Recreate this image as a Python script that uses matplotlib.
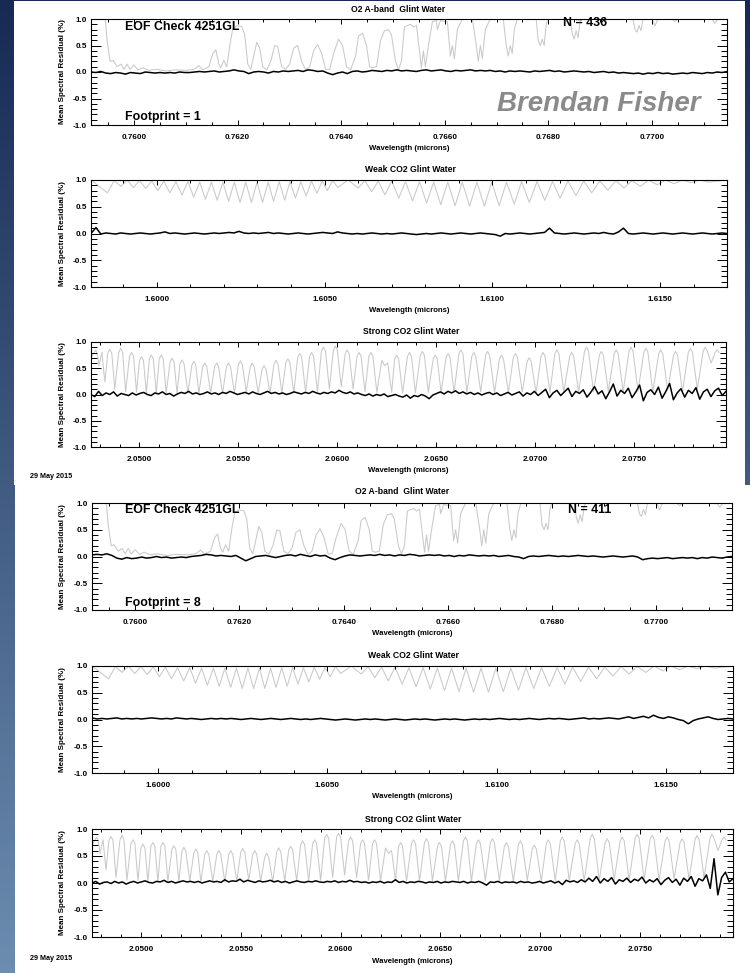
import numpy as np
import matplotlib
matplotlib.use("Agg")
import matplotlib.pyplot as plt
from matplotlib.patches import Rectangle
from matplotlib.ticker import MultipleLocator, FixedLocator, FormatStrFormatter

plt.rcParams['font.family'] = ['Liberation Sans', 'DejaVu Sans']
plt.rcParams['font.weight'] = 'bold'
plt.rcParams['axes.unicode_minus'] = False

# ---------------- data ----------------
band_titles = ["O2 A-band  Glint Water", "Weak CO2 Glint Water", "Strong CO2 Glint Water"]
o2_xlim = (0.75917, 0.77145)
weak_xlim = (1.59804, 1.61699)
strong_xlim = (2.04755, 2.07965)
o2_major = [0.7600, 0.7620, 0.7640, 0.7660, 0.7680, 0.7700]
weak_major = [1.6000, 1.6050, 1.6100, 1.6150]
strong_major = [2.0500, 2.0550, 2.0600, 2.0650, 2.0700, 2.0750]
footprints = [1, 8]
n_soundings = [436, 411]
date_label = "29 May 2015"

# grey reference spectra (scaled)
o2_wl = [0.759191, 0.759441, 0.759480, 0.759538, 0.759595, 0.759672, 0.759749, 0.759807, 0.759865,
         0.759923, 0.760000, 0.760077, 0.760173, 0.760289, 0.760424, 0.760617, 0.760809, 0.761002,
         0.761156, 0.761253, 0.761330, 0.761445, 0.761522, 0.761580, 0.761638, 0.761676, 0.761734,
         0.761792, 0.761850, 0.761908, 0.761985, 0.762081, 0.762139, 0.762197, 0.762255, 0.762312,
         0.762370, 0.762428, 0.762486, 0.762563, 0.762640, 0.762717, 0.762775, 0.762852, 0.762929,
         0.763006, 0.763083, 0.763160, 0.763237, 0.763314, 0.763392, 0.763469, 0.763546, 0.763623,
         0.763700, 0.763777, 0.763854, 0.763950, 0.764027, 0.764105, 0.764182, 0.764278, 0.764336,
         0.764413, 0.764490, 0.764548, 0.764606, 0.764683, 0.764760, 0.764837, 0.764914, 0.764972,
         0.765049, 0.765107, 0.765164, 0.765222, 0.765338, 0.765396, 0.765454, 0.765511, 0.765550,
         0.765588, 0.765627, 0.765685, 0.765762, 0.765839, 0.765858, 0.765916, 0.766051, 0.766109,
         0.766147, 0.766186, 0.766243, 0.766340, 0.766533, 0.766610, 0.766648, 0.766687, 0.766725,
         0.766783, 0.766879, 0.767130, 0.767188, 0.767226, 0.767265, 0.767303, 0.767342, 0.767400,
         0.767766, 0.767804, 0.767843, 0.767881, 0.767920, 0.767958, 0.767997, 0.768421, 0.768460,
         0.768498, 0.768537, 0.768575, 0.768614, 0.768652, 0.769635, 0.769674, 0.769712, 0.769751,
         0.769789, 0.769828, 0.770001, 0.770059, 0.770117, 0.770387, 0.770444, 0.770502, 0.771158,
         0.771215, 0.771273, 0.771446]
o2_spec = [1.05, 1.05, 0.60, 0.20, 0.22, 0.10, 0.15, 0.05, 0.15,
           0.05, 0.13, 0.04, 0.08, 0.03, 0.05, 0.02, 0.04, 0.03,
           0.05, 0.12, 0.04, 0.10, 0.35, 0.42, 0.15, 0.08, 0.22,
           0.10, 0.50, 0.82, 0.87, 0.86, 0.70, 0.15, 0.05, 0.30,
           0.56, 0.45, 0.10, 0.04, 0.20, 0.50, 0.48, 0.10, 0.05,
           0.15, 0.45, 0.50, 0.20, 0.04, 0.10, 0.40, 0.52, 0.35,
           0.05, 0.05, 0.35, 0.62, 0.50, 0.10, 0.04, 0.30, 0.68,
           0.73, 0.50, 0.10, 0.08, 0.10, 0.60, 0.78, 0.80, 0.70,
           0.20, 0.05, 0.20, 0.85, 0.90, 0.85, 0.88, 0.40, 0.08,
           0.40, 0.10, 0.50, 0.95, 0.97, 0.80, 0.97, 0.95, 0.30,
           0.50, 0.25, 0.80, 1.00, 1.00, 0.50, 0.20, 0.50, 0.25,
           0.80, 1.00, 1.00, 0.50, 0.30, 0.50, 0.35, 0.80, 1.00,
           1.00, 0.60, 0.50, 0.62, 0.50, 0.90, 1.00, 1.00, 0.75,
           0.62, 0.78, 0.65, 0.95, 1.00, 1.00, 0.80, 0.75, 0.88,
           0.78, 1.00, 1.00, 0.87, 1.00, 1.00, 0.95, 1.00, 1.00,
           0.92, 1.00, 1.00]

weak_wl = [1.59804, 1.59853, 1.59873, 1.59893, 1.59912, 1.59930, 1.59949, 1.59967, 1.59985, 1.60003,
           1.60021, 1.60039, 1.60057, 1.60075, 1.60093, 1.60110, 1.60128, 1.60145, 1.60163, 1.60180,
           1.60197, 1.60214, 1.60231, 1.60248, 1.60265, 1.60282, 1.60299, 1.60315, 1.60332, 1.60348,
           1.60365, 1.60381, 1.60397, 1.60413, 1.60429, 1.60445, 1.60461, 1.60477, 1.60493, 1.60508,
           1.60524, 1.60539, 1.60570, 1.60600, 1.60620, 1.60640, 1.60660, 1.60680, 1.60700, 1.60721,
           1.60741, 1.60762, 1.60783, 1.60804, 1.60825, 1.60846, 1.60867, 1.60889, 1.60910, 1.60932,
           1.60954, 1.60976, 1.60998, 1.61020, 1.61042, 1.61065, 1.61087, 1.61110, 1.61133, 1.61156,
           1.61179, 1.61202, 1.61225, 1.61249, 1.61272, 1.61296, 1.61320, 1.61344, 1.61368, 1.61392,
           1.61416, 1.61441, 1.61466, 1.61491, 1.61516, 1.61541, 1.61566, 1.61592, 1.61618, 1.61644,
           1.61699]
weak_spec = [1.00, 0.76, 0.99, 0.88, 1.00, 0.86, 0.99, 0.84, 0.98, 0.80,
             0.98, 0.76, 0.97, 0.72, 0.97, 0.68, 0.96, 0.64, 0.96, 0.62,
             0.96, 0.60, 0.96, 0.58, 0.96, 0.58, 0.96, 0.58, 0.96, 0.60,
             0.97, 0.62, 0.97, 0.66, 0.97, 0.70, 0.98, 0.75, 0.98, 0.80,
             0.99, 0.86, 1.00, 0.85, 0.99, 0.78, 0.98, 0.72, 0.98, 0.66,
             0.97, 0.61, 0.97, 0.57, 0.96, 0.54, 0.96, 0.52, 0.96, 0.51,
             0.96, 0.51, 0.96, 0.52, 0.96, 0.55, 0.97, 0.58, 0.97, 0.62,
             0.97, 0.66, 0.98, 0.71, 0.98, 0.76, 0.98, 0.81, 0.99, 0.85,
             0.99, 0.88, 1.00, 0.91, 1.00, 0.93, 1.00, 0.95, 1.00, 0.96,
             1.00]

# (wavelength, scaled value) vertices of the strong CO2 reference spectrum
strong_pts = [
    (2.04755, 0.69), (2.04770, 0.80), (2.04780, 0.85), (2.04790, 0.70), (2.04795, 0.55),
    (2.04810, 0.80), (2.04825, 0.24), (2.04840, 0.79), (2.04850, 0.86), (2.04860, 0.79),
    (2.04875, 0.10), (2.04895, 0.80), (2.04905, 0.88), (2.04915, 0.80), (2.04930, 0.05),
    (2.04950, 0.73), (2.04960, 0.80), (2.04970, 0.73), (2.04985, 0.04), (2.05000, 0.65),
    (2.05010, 0.72), (2.05020, 0.65), (2.05035, 0.03), (2.05050, 0.68), (2.05060, 0.75),
    (2.05070, 0.68), (2.05085, 0.02), (2.05100, 0.68), (2.05110, 0.75), (2.05120, 0.68),
    (2.05135, 0.03), (2.05155, 0.62), (2.05165, 0.69), (2.05175, 0.62), (2.05190, 0.02),
    (2.05205, 0.59), (2.05215, 0.66), (2.05225, 0.59), (2.05245, 0.03), (2.05265, 0.56),
    (2.05275, 0.63), (2.05285, 0.56), (2.05300, 0.02), (2.05320, 0.53), (2.05330, 0.60),
    (2.05340, 0.53), (2.05360, 0.03), (2.05380, 0.53), (2.05390, 0.60), (2.05400, 0.53),
    (2.05420, 0.02), (2.05440, 0.53), (2.05450, 0.60), (2.05460, 0.53), (2.05480, 0.03),
    (2.05500, 0.57), (2.05510, 0.64), (2.05520, 0.57), (2.05540, 0.05), (2.05560, 0.53),
    (2.05570, 0.60), (2.05580, 0.53), (2.05600, 0.03), (2.05620, 0.48), (2.05630, 0.55),
    (2.05640, 0.48), (2.05660, 0.02), (2.05680, 0.58), (2.05690, 0.65), (2.05700, 0.58),
    (2.05720, 0.03), (2.05740, 0.61), (2.05750, 0.68), (2.05760, 0.61), (2.05780, 0.03),
    (2.05800, 0.71), (2.05810, 0.78), (2.05820, 0.71), (2.05840, 0.04), (2.05860, 0.73),
    (2.05870, 0.80), (2.05880, 0.73), (2.05900, 0.05), (2.05920, 0.83), (2.05930, 0.90),
    (2.05940, 0.83), (2.05960, 0.10), (2.05980, 0.85), (2.05990, 0.92), (2.06000, 0.85),
    (2.06020, 0.15), (2.06040, 0.78), (2.06050, 0.85), (2.06060, 0.78), (2.06080, 0.10),
    (2.06100, 0.73), (2.06110, 0.80), (2.06120, 0.73), (2.06140, 0.05), (2.06160, 0.73),
    (2.06170, 0.80), (2.06180, 0.73), (2.06200, 0.04), (2.06225, 0.65), (2.06240, 0.55),
    (2.06255, 0.60), (2.06275, 0.04), (2.06290, 0.68), (2.06300, 0.75), (2.06310, 0.68),
    (2.06330, 0.03), (2.06355, 0.73), (2.06365, 0.80), (2.06375, 0.73), (2.06395, 0.03),
    (2.06420, 0.75), (2.06430, 0.82), (2.06440, 0.75), (2.06460, 0.04), (2.06485, 0.68),
    (2.06495, 0.75), (2.06505, 0.68), (2.06525, 0.03), (2.06550, 0.71), (2.06560, 0.78),
    (2.06570, 0.71), (2.06590, 0.04), (2.06615, 0.78), (2.06625, 0.85), (2.06635, 0.78),
    (2.06655, 0.03), (2.06680, 0.73), (2.06690, 0.80), (2.06700, 0.73), (2.06725, 0.05),
    (2.06750, 0.75), (2.06760, 0.82), (2.06770, 0.75), (2.06795, 0.04), (2.06820, 0.68),
    (2.06830, 0.75), (2.06840, 0.68), (2.06865, 0.03), (2.06890, 0.71), (2.06900, 0.78),
    (2.06910, 0.71), (2.06935, 0.05), (2.06960, 0.63), (2.06970, 0.70), (2.06980, 0.63),
    (2.07005, 0.03), (2.07030, 0.73), (2.07040, 0.80), (2.07050, 0.73), (2.07075, 0.04),
    (2.07100, 0.78), (2.07110, 0.85), (2.07120, 0.78), (2.07145, 0.05), (2.07175, 0.73),
    (2.07185, 0.80), (2.07195, 0.73), (2.07220, 0.04), (2.07250, 0.83), (2.07260, 0.90),
    (2.07270, 0.83), (2.07295, 0.05), (2.07325, 0.75), (2.07335, 0.82), (2.07345, 0.75),
    (2.07370, 0.06), (2.07400, 0.78), (2.07410, 0.85), (2.07420, 0.78), (2.07445, 0.05),
    (2.07475, 0.83), (2.07485, 0.90), (2.07495, 0.83), (2.07520, 0.06), (2.07550, 0.81),
    (2.07560, 0.88), (2.07570, 0.81), (2.07595, 0.05), (2.07625, 0.78), (2.07635, 0.85),
    (2.07645, 0.78), (2.07670, 0.08), (2.07700, 0.75), (2.07710, 0.82), (2.07720, 0.75),
    (2.07745, 0.06), (2.07775, 0.81), (2.07785, 0.88), (2.07795, 0.81), (2.07820, 0.10),
    (2.07850, 0.83), (2.07860, 0.90), (2.07870, 0.83), (2.07890, 0.60), (2.07910, 0.80),
    (2.07920, 0.85), (2.07930, 0.80)]

# mean spectral residuals (%), evenly sampled across each window
o2_res_fp1 = [
    0.00, -0.01, 0.01, -0.02, -0.03, -0.01, -0.02, -0.04, -0.01, -0.02,
    -0.03, 0.00, -0.01, -0.02, -0.01, -0.02, -0.01, -0.02, 0.00, -0.01,
    -0.01, 0.00, 0.01, 0.00, 0.01, 0.02, 0.00, 0.01, 0.02, 0.04,
    0.02, 0.01, -0.03, 0.00, 0.01, 0.00, -0.02, 0.01, 0.00, 0.02,
    0.01, 0.02, 0.03, 0.01, 0.04, 0.03, 0.01, 0.02, -0.02, -0.05,
    -0.02, 0.00, -0.03, 0.01, 0.02, 0.00, 0.01, 0.03, 0.02, 0.01,
    0.03, 0.02, 0.04, 0.02, 0.03, 0.02, 0.01, 0.03, 0.04, 0.02,
    0.03, 0.04, 0.02, 0.01, 0.03, 0.02, 0.03, 0.04, 0.02, 0.03,
    0.02, 0.03, 0.01, 0.02, 0.00, 0.02, 0.01, 0.02, 0.01, 0.00,
    0.02, 0.01, 0.02, 0.03, 0.01, 0.02, 0.00, 0.01, 0.02, 0.01,
    0.00, 0.01, -0.01, 0.00, 0.01, -0.01, 0.00, -0.02, -0.01, -0.02,
    -0.03, -0.02, -0.04, -0.02, -0.03, -0.01, -0.03, -0.02, -0.04, -0.03,
    -0.02, -0.03, -0.01, -0.02, -0.03, -0.01, -0.02, 0.00, -0.01, 0.01]
o2_res_fp8 = [
    0.03, 0.04, 0.03, 0.05, 0.02, -0.03, -0.05, -0.02, -0.04, -0.03,
    -0.01, -0.03, -0.02, 0.00, -0.02, -0.01, -0.03, -0.02, -0.01, -0.02,
    0.00, 0.01, 0.02, 0.04, 0.03, 0.01, 0.02, 0.01, 0.00, 0.02,
    -0.03, -0.08, -0.04, 0.00, 0.01, 0.02, 0.00, -0.02, 0.00, 0.02,
    0.03, 0.01, 0.04, 0.02, 0.00, 0.03, 0.01, 0.02, -0.03, -0.06,
    -0.02, 0.01, 0.03, 0.02, 0.01, 0.02, 0.03, 0.02, 0.04, 0.02,
    0.03, 0.01, 0.03, 0.02, 0.04, 0.03, 0.01, 0.02, 0.03, 0.02,
    0.03, 0.01, 0.02, 0.00, 0.02, 0.01, 0.03, 0.02, 0.01, 0.02,
    0.01, 0.02, 0.00, 0.01, 0.02, 0.00, -0.01, -0.04, 0.00, 0.01,
    0.00, 0.01, 0.02, 0.01, 0.00, 0.01, 0.00, 0.01, 0.02, 0.01,
    0.00, 0.01, 0.00, -0.01, 0.00, 0.01, 0.00, -0.01, 0.00, 0.01,
    -0.01, -0.06, -0.04, -0.03, -0.04, -0.03, -0.02, -0.04, -0.03, -0.02,
    -0.03, -0.02, -0.04, -0.02, -0.03, -0.01, -0.02, -0.03, -0.01, 0.00]
weak_res_fp1 = [
    0.00, 0.11, -0.01, 0.01, 0.00, -0.01, 0.01, 0.00, -0.01, 0.00,
    0.01, 0.00, -0.01, 0.00, 0.01, 0.03, 0.00, 0.01, 0.00, -0.01,
    0.00, 0.01, 0.00, -0.01, 0.00, 0.01, 0.00, 0.01, 0.02, 0.01,
    0.04, 0.01, 0.00, 0.01, 0.00, 0.01, 0.02, 0.00, 0.01, 0.00,
    -0.01, 0.00, 0.01, 0.00, -0.01, 0.00, 0.01, 0.02, 0.01, 0.00,
    0.03, 0.01, 0.00, -0.01, 0.00, -0.01, 0.00, 0.01, 0.00, -0.01,
    0.00, -0.01, 0.00, 0.01, 0.00, -0.01, -0.02, -0.01, 0.00, -0.01,
    0.00, 0.01, 0.00, -0.01, 0.00, 0.01, 0.00, -0.01, 0.00, 0.01,
    0.00, -0.01, -0.02, -0.05, 0.00, -0.01, 0.00, 0.01, 0.00, -0.01,
    0.00, 0.01, 0.02, 0.10, 0.01, 0.00, -0.01, 0.00, 0.01, 0.00,
    -0.01, 0.00, 0.01, 0.00, 0.02, 0.00, -0.01, 0.03, 0.10, 0.00,
    -0.01, 0.00, 0.01, 0.00, -0.01, 0.00, 0.01, 0.00, -0.01, 0.00,
    0.01, 0.00, -0.01, 0.00, 0.01, 0.00, -0.01, 0.00, 0.01, 0.00]
weak_res_fp8 = [
    0.03, 0.01, 0.02, 0.01, 0.02, 0.03, 0.01, 0.02, 0.01, 0.02,
    0.01, 0.02, 0.03, 0.02, 0.01, 0.02, 0.01, 0.03, 0.02, 0.01,
    0.02, 0.01, 0.00, 0.01, 0.02, 0.01, 0.02, 0.01, 0.02, 0.01,
    0.00, 0.01, 0.02, 0.01, 0.00, 0.01, 0.02, 0.01, 0.00, 0.01,
    0.02, 0.01, 0.00, 0.01, 0.00, 0.01, 0.02, 0.01, 0.00, -0.01,
    0.00, 0.01, 0.00, -0.01, 0.00, 0.01, 0.00, 0.01, 0.00, -0.01,
    0.00, 0.01, 0.00, -0.01, 0.00, 0.01, 0.00, 0.01, 0.00, -0.01,
    0.00, 0.01, 0.00, 0.01, 0.00, -0.01, 0.00, 0.01, 0.00, 0.01,
    0.00, 0.01, 0.02, 0.01, 0.00, 0.01, 0.00, 0.01, 0.02, 0.01,
    0.00, 0.01, 0.02, 0.01, 0.02, 0.01, 0.00, 0.01, 0.02, 0.03,
    0.01, 0.02, 0.01, 0.02, 0.03, 0.02, 0.01, 0.03, 0.05, 0.02,
    0.04, 0.06, 0.03, 0.08, 0.04, 0.02, 0.05, 0.03, 0.00, -0.02,
    -0.08, -0.02, 0.01, 0.03, 0.05, 0.02, 0.00, 0.01, 0.02, 0.01]
strong_res_fp1 = [
    0.00, -0.04, 0.06, -0.02, 0.03, 0.00, 0.05, -0.03, 0.02, 0.00,
    -0.02, 0.03, -0.01, 0.02, 0.04, 0.00, -0.02, 0.03, 0.01, 0.05,
    0.00, 0.02, -0.03, 0.01, 0.04, 0.02, 0.06, 0.01, 0.03, 0.00,
    0.02, 0.05, 0.01, 0.03, 0.00, 0.04, 0.02, 0.06, 0.03, 0.00,
    0.02, 0.04, 0.01, 0.05, 0.02, 0.00, 0.03, 0.06, 0.02, 0.04,
    0.01, 0.03, 0.00, 0.02, 0.05, 0.03, 0.01, 0.04, 0.02, 0.06,
    0.03, 0.01, 0.04, 0.02, 0.05, 0.03, 0.08, 0.04, 0.02, 0.05,
    0.01, 0.03, 0.00, -0.02, 0.01, -0.03, 0.00, -0.02, 0.01, -0.04,
    -0.02, 0.00, -0.03, -0.05, -0.01, -0.07, -0.02, -0.04, 0.00, -0.03,
    -0.08, -0.01, 0.02, 0.05, 0.01, 0.06, 0.03, 0.07, 0.02, 0.05,
    0.01, 0.04, 0.00, 0.03, -0.01, 0.02, 0.04, 0.00, 0.03, -0.02,
    0.01, 0.04, -0.01, 0.02, 0.05, -0.03, 0.03, 0.00, 0.06, -0.02,
    0.04, 0.10, -0.06, 0.03, 0.08, -0.02, 0.05, 0.12, -0.04, 0.06,
    0.02, 0.09, -0.05, 0.04, 0.15, 0.01, 0.07, -0.08, 0.05, 0.20,
    -0.03, 0.08, 0.02, 0.12, -0.06, 0.05, 0.18, -0.12, 0.04, 0.09,
    0.00, 0.14, -0.07, 0.06, 0.21, -0.10, 0.03, 0.11, -0.05, 0.08,
    0.02, 0.13, -0.09, 0.05, 0.10, -0.04, 0.07, 0.12, -0.02, 0.06]
strong_res_fp8 = [
    0.00, 0.03, -0.02, 0.01, 0.02, -0.01, 0.03, 0.00, 0.02, -0.02,
    0.01, 0.03, 0.00, 0.02, 0.04, 0.01, 0.00, 0.03, 0.02, 0.05,
    0.01, 0.03, 0.00, 0.02, 0.04, 0.02, 0.03, 0.01, 0.03, 0.00,
    0.02, 0.04, 0.02, 0.03, 0.01, 0.06, 0.02, 0.04, 0.03, 0.07,
    0.02, 0.05, 0.03, 0.01, 0.04, 0.02, 0.03, 0.05, 0.02, 0.04,
    0.01, 0.03, 0.00, 0.02, 0.04, 0.02, 0.01, 0.03, 0.02, 0.04,
    0.02, 0.01, 0.03, 0.02, 0.04, 0.01, 0.03, 0.02, 0.05, 0.02,
    0.03, 0.01, 0.02, 0.00, 0.02, 0.01, 0.03, 0.00, 0.02, 0.01,
    0.06, 0.01, 0.03, 0.00, 0.02, 0.01, 0.03, 0.02, 0.00, 0.02,
    0.01, 0.03, 0.00, 0.02, 0.01, 0.03, 0.02, 0.01, 0.03, 0.00,
    0.02, 0.01, 0.03, 0.00, -0.04, 0.02, 0.01, 0.03, 0.00, 0.02,
    0.01, 0.02, 0.00, 0.03, 0.01, 0.02, 0.00, 0.01, 0.03, 0.00,
    0.02, 0.04, 0.00, 0.03, -0.03, 0.05, 0.02, 0.04, 0.01, 0.06,
    0.02, 0.09, 0.03, 0.12, 0.00, 0.08, 0.03, 0.10, -0.02, 0.06,
    0.03, 0.09, 0.01, 0.07, 0.04, 0.11, 0.00, 0.06, 0.02, 0.08,
    -0.03, 0.05, 0.10, 0.01, 0.07, -0.04, 0.09, 0.03, 0.12, -0.06,
    0.08, 0.04, 0.15, -0.10, 0.45, -0.22, 0.10, 0.20, 0.02, 0.08]

strong_wl = [p[0] for p in strong_pts]
strong_spec = [p[1] for p in strong_pts]

# ---------------- figure ----------------
W, H = 750, 973
fig = plt.figure(figsize=(W / 100, H / 100), dpi=100)

bg = fig.add_axes([0, 0, 1, 1], zorder=0)
bg.set_xlim(0, W)
bg.set_ylim(H, 0)
bg.axis('off')
t = np.linspace(0, 1, 256)[:, None, None]
c_top = np.array([22, 42, 84]) / 255.0
c_bot = np.array([108, 140, 176]) / 255.0
bg.imshow(c_top * (1 - t) + c_bot * t, extent=[0, W, H, 0], aspect='auto')
bg.add_patch(Rectangle((14, 1), 731, 484, facecolor='white', edgecolor='none'))
bg.add_patch(Rectangle((15, 485), 735, 488, facecolor='white', edgecolor='none'))


def add_ax(left, right, top, bottom):
    return fig.add_axes([left / W, 1 - bottom / H, (right - left) / W, (bottom - top) / H], zorder=2)


def style(ax, xlim, majors, minor_step):
    ax.set_xlim(*xlim)
    ax.set_ylim(-1.0, 1.0)
    ax.xaxis.set_major_locator(FixedLocator(majors))
    ax.xaxis.set_minor_locator(MultipleLocator(minor_step))
    ax.yaxis.set_major_locator(MultipleLocator(0.5))
    ax.yaxis.set_minor_locator(MultipleLocator(0.1))
    ax.xaxis.set_major_formatter(FormatStrFormatter('%.4f'))
    ax.yaxis.set_major_formatter(FormatStrFormatter('%.1f'))
    ax.tick_params(axis='both', which='both', direction='in', top=True, right=True,
                   labelsize=5.9, width=0.7, colors='black')
    ax.tick_params(axis='y', which='major', length=7.5, pad=3)
    ax.tick_params(axis='y', which='minor', length=4)
    ax.tick_params(axis='x', which='major', length=3.5, pad=6.5)
    ax.tick_params(axis='x', which='minor', length=2)
    for s in ax.spines.values():
        s.set_linewidth(0.8)
    ax.set_facecolor('none')
    ax.set_ylabel("Mean Spectral Residual (%)", fontsize=5.8, fontweight='bold')
    ax.yaxis.set_label_coords(-0.040, 0.5)
    ax.set_xlabel("Wavelength (microns)", fontsize=5.6, fontweight='bold')
    ax.xaxis.set_label_coords(0.5, -0.19)


def plot_panel(ax, wl, spec, resid, xlim):
    ax.plot(wl, spec, color='#c9c9c9', lw=0.75, zorder=1)
    x = np.linspace(xlim[0], xlim[1], len(resid))
    ax.plot(x, resid, color='black', lw=1.1, zorder=2)


panels = [
    dict(left=91, boxes=[(19, 125), (180, 287), (342, 447)],
         rights=[727, 727, 726], title_y=[9, 170, 332], title_x=[398, 410, 411]),
    dict(left=92, boxes=[(503, 610), (666, 773), (829, 937)],
         rights=[732, 733, 733], title_y=[491, 656, 820], title_x=[402, 413, 413]),
]

o2_res = [o2_res_fp1, o2_res_fp8]
weak_res = [weak_res_fp1, weak_res_fp8]
strong_res = [strong_res_fp1, strong_res_fp8]

for k, P in enumerate(panels):
    axes = []
    specs = [(o2_wl, o2_spec, o2_res[k], o2_xlim, o2_major, 0.0005),
             (weak_wl, weak_spec, weak_res[k], weak_xlim, weak_major, 0.001),
             (strong_wl, strong_spec, strong_res[k], strong_xlim, strong_major, 0.001)]
    for j, (box, right) in enumerate(zip(P['boxes'], P['rights'])):
        ax = add_ax(P['left'], right, box[0], box[1])
        wl, spec, res, xlim, majors, mstep = specs[j]
        style(ax, xlim, majors, mstep)
        plot_panel(ax, wl, spec, res, xlim)
        bg.text(P['title_x'][j], P['title_y'][j], band_titles[j], ha='center', va='center',
                fontsize=6.2, fontweight='bold', zorder=5)
        axes.append(ax)
    a0 = axes[0]
    top, bot = P['boxes'][0]
    hgt = bot - top
    wid = P['rights'][0] - P['left']
    ey = 27 if k == 0 else 510
    a0.text((125 - P['left']) / wid, (bot - ey) / hgt, "EOF Check 4251GL",
            transform=a0.transAxes, ha='left', va='center', fontsize=8.9, fontweight='bold')
    nx = 563 if k == 0 else 568
    ny = 23 if k == 0 else 510
    a0.text((nx - P['left']) / wid, (bot - ny) / hgt, "N = %d" % n_soundings[k],
            transform=a0.transAxes, ha='left', va='center', fontsize=8.9, fontweight='bold')
    fy = 117 if k == 0 else 603
    a0.text((125 - P['left']) / wid, (bot - fy) / hgt, "Footprint = %d" % footprints[k],
            transform=a0.transAxes, ha='left', va='center', fontsize=8.9, fontweight='bold')
    if k == 0:
        a0.text((497 - P['left']) / wid, (bot - 104) / hgt, "Brendan Fisher",
                transform=a0.transAxes, ha='left', va='center', fontsize=20,
                fontweight='bold', fontstyle='italic', color='#8a8a8a')
    dy = 477 if k == 0 else 958
    bg.text(30, dy, date_label, ha='left', va='center', fontsize=5.2, fontweight='bold')

fig.savefig("out.png", dpi=100)
